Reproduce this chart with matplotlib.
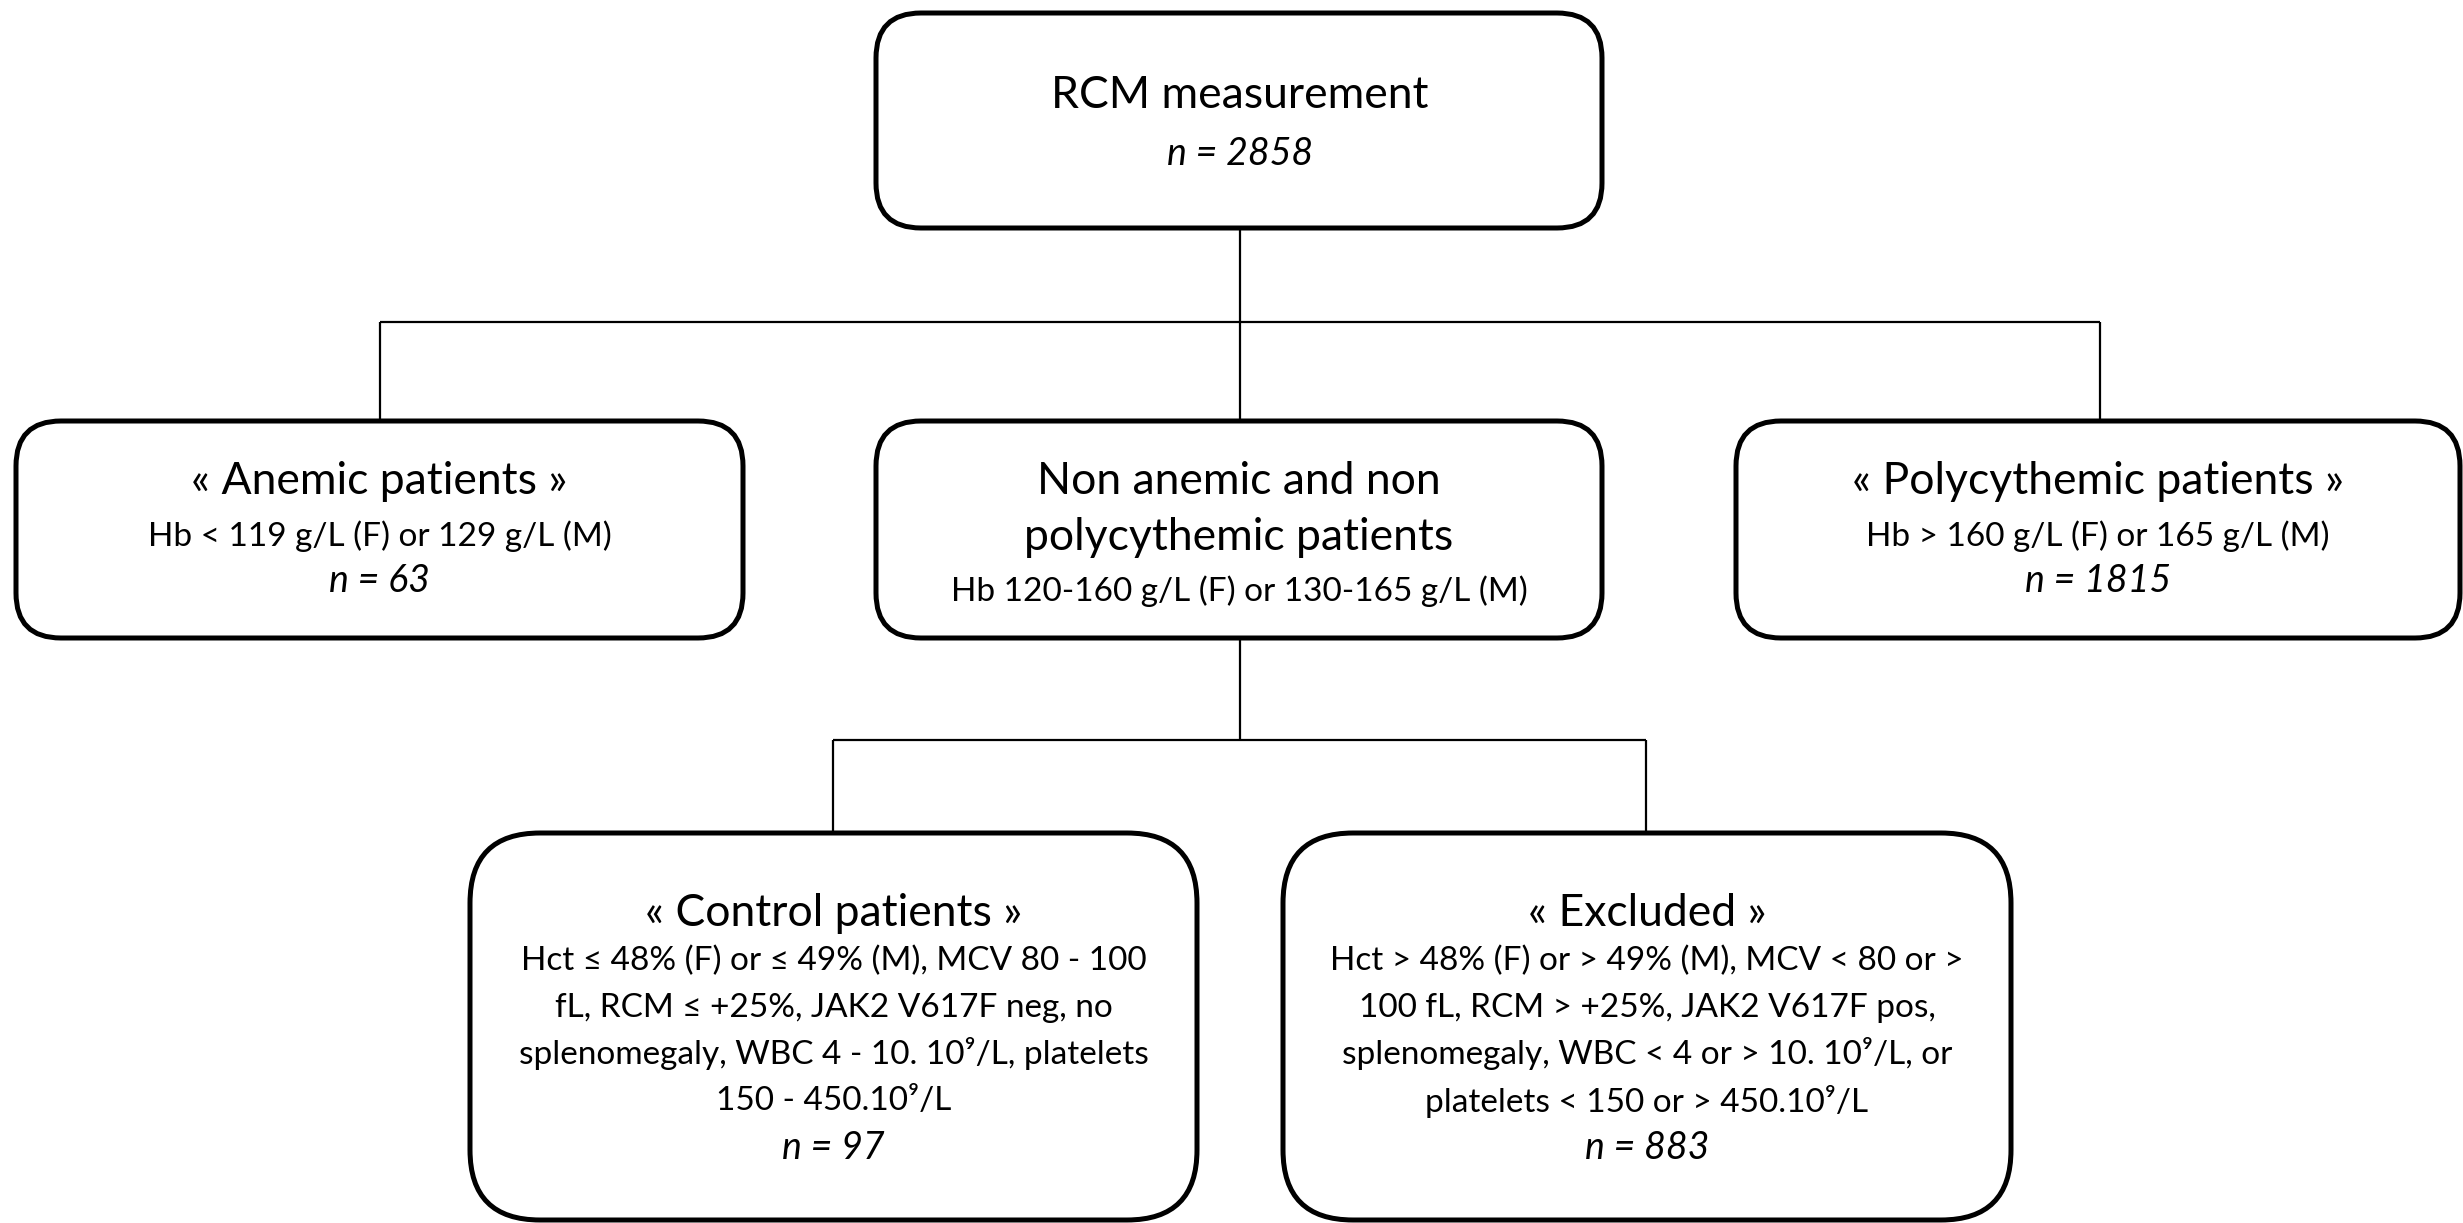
import matplotlib
matplotlib.use("Agg")
import matplotlib.pyplot as plt
from matplotlib.patches import FancyBboxPatch

W, H = 2463, 1223
FAM = ['Lato', 'DejaVu Sans']

# ---- data ----
top_title = ["RCM measurement"]
top_n = 2858
mid_titles = [["« Anemic patients »"],
              ["Non anemic and non", "polycythemic patients"],
              ["« Polycythemic patients »"]]
mid_criteria = [["Hb < 119 g/L (F) or 129 g/L (M)"],
                ["Hb 120-160 g/L (F) or 130-165 g/L (M)"],
                ["Hb > 160 g/L (F) or 165 g/L (M)"]]
mid_n = [63, None, 1815]
bot_titles = [["« Control patients »"], ["« Excluded »"]]
bot_criteria = [["Hct ≤ 48% (F) or ≤ 49% (M), MCV 80 - 100",
                 "fL, RCM ≤ +25%, JAK2 V617F neg, no",
                 "splenomegaly, WBC 4 - 10. 10⁹/L, platelets",
                 "150 - 450.10⁹/L"],
                ["Hct > 48% (F) or > 49% (M), MCV < 80 or >",
                 "100 fL, RCM > +25%, JAK2 V617F pos,",
                 "splenomegaly, WBC < 4 or > 10. 10⁹/L, or",
                 "platelets < 150 or > 450.10⁹/L"]]
bot_n = [97, 883]

fig = plt.figure(figsize=(W / 100, H / 100), dpi=100)
ax = fig.add_axes([0, 0, 1, 1])
ax.set_xlim(0, W)
ax.set_ylim(H, 0)
ax.axis('off')

BOX_LW = 3.6
LINE_LW = 1.6
T_SIZE = 32
C_SIZE = 24
N_SIZE = 27

def box(x0, y0, x1, y1, r):
    p = FancyBboxPatch((x0, y0), x1 - x0, y1 - y0,
                       boxstyle=f"round,pad=0,rounding_size={r}",
                       fc='white', ec='black', lw=BOX_LW, zorder=3)
    ax.add_patch(p)

def line(xs, ys):
    ax.plot(xs, ys, color='black', lw=LINE_LW, zorder=1, solid_capstyle='butt')

def txt(x, y, s, size, italic=False):
    ax.text(x, y, s, ha='center', va='center', fontsize=size,
            family=FAM, style='italic' if italic else 'normal', zorder=4)

# connectors
line([1240, 1240], [228, 322])
line([380, 2100], [322, 322])
for cx in (380, 1240, 2100):
    line([cx, cx], [322, 421])
line([1240, 1240], [638, 740])
line([833, 1646], [740, 740])
for cx in (833, 1646):
    line([cx, cx], [740, 833])

# top box
box(876, 13, 1602, 228, 45)
txt(1240, 96, top_title[0], T_SIZE)
txt(1240, 154, f"n = {top_n}", N_SIZE, italic=True)

# middle row
mid_boxes = [(16, 743), (876, 1602), (1736, 2460)]
for i, (x0, x1) in enumerate(mid_boxes):
    box(x0, 421, x1, 638, 45)
    cx = (x0 + x1) / 2
    if len(mid_titles[i]) == 1:
        txt(cx, 482, mid_titles[i][0], T_SIZE)
        txt(cx, 536, mid_criteria[i][0], C_SIZE)
        txt(cx, 581, f"n = {mid_n[i]}", N_SIZE, italic=True)
    else:
        txt(cx, 481, mid_titles[i][0], T_SIZE)
        txt(cx, 537, mid_titles[i][1], T_SIZE)
        txt(cx, 591, mid_criteria[i][0], C_SIZE)

# bottom row
bot_boxes = [(470, 1197), (1283, 2011)]
crit_y = [961, 1008, 1054, 1101]
for i, (x0, x1) in enumerate(bot_boxes):
    box(x0, 833, x1, 1220, 70)
    cx = (x0 + x1) / 2
    txt(cx, 913, bot_titles[i][0], T_SIZE)
    for y, s in zip(crit_y, bot_criteria[i]):
        txt(cx, y, s, C_SIZE)
    txt(cx, 1148, f"n = {bot_n[i]}", N_SIZE, italic=True)

fig.savefig("out.png", dpi=100, facecolor='white')
